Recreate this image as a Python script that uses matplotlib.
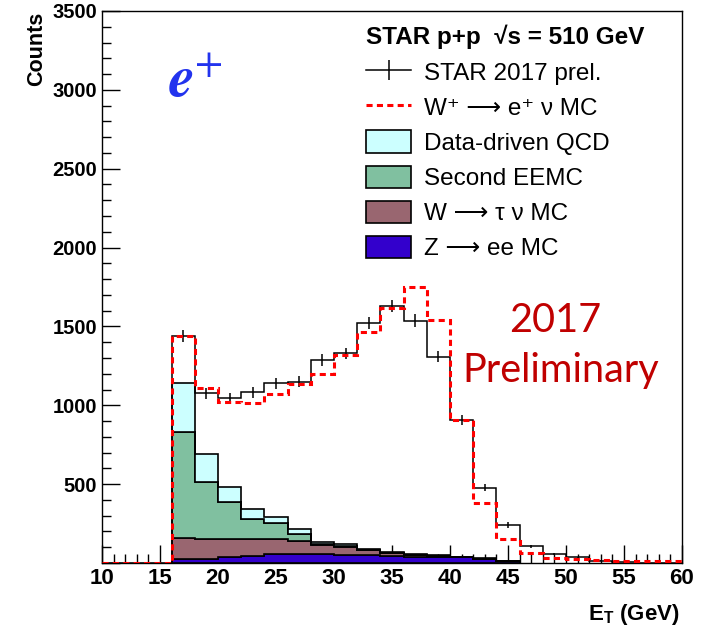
import numpy as np
import matplotlib
matplotlib.use("Agg")
import matplotlib.pyplot as plt
from matplotlib.lines import Line2D
from matplotlib.patches import Patch
from matplotlib.ticker import MultipleLocator

plt.rcParams['font.family'] = ['Liberation Sans', 'DejaVu Sans']
plt.rcParams['mathtext.fontset'] = 'custom'
plt.rcParams['mathtext.rm'] = 'Liberation Sans'
plt.rcParams['mathtext.bf'] = 'Liberation Sans:bold'
plt.rcParams['mathtext.it'] = 'Liberation Sans:italic'

# E_T binning (GeV), 2 GeV bins from 10 to 60
bin_edges = [10, 12, 14, 16, 18, 20, 22, 24, 26, 28, 30, 32, 34, 36, 38, 40,
             42, 44, 46, 48, 50, 52, 54, 56, 58, 60]

# STAR 2017 preliminary data (counts per bin) and statistical errors
data_counts = [0, 0, 0, 1438, 1076, 1044, 1082, 1139, 1150, 1287, 1330, 1520,
               1630, 1537, 1308, 907, 478, 241, 106, 57, 35, 15, 4, 3, 0]
data_errors = [0, 0, 0, 38, 33, 32, 33, 34, 34, 36, 36, 39,
               40, 39, 36, 30, 22, 16, 10, 8, 6, 4, 2, 2, 0]

# W+ -> e+ nu signal MC
mc_wplus = [0, 0, 0, 1442, 1108, 1023, 1013, 1070, 1135, 1196, 1319, 1467,
            1615, 1750, 1541, 907, 378, 155, 61, 34, 23, 17, 15, 15, 15]

# Background components, bins from 16 to 46 GeV
bkg_edges = [16, 18, 20, 22, 24, 26, 28, 30, 32, 34, 36, 38, 40, 42, 44, 46]
bkg_z_ee = [23, 25, 36, 46, 55, 55, 55, 50, 48, 44, 40, 40, 36, 25, 13]
bkg_w_tau = [134, 125, 119, 109, 98, 82, 59, 49, 32, 18, 10, 5, 2, 2, 1]
bkg_eemc = [676, 366, 230, 124, 99, 45, 5, 6, 5, 4, 3, 2, 1, 1, 0]
bkg_qcd = [306, 173, 99, 66, 37, 34, 11, 15, 5, 4, 2, 2, 1, 2, 1]

bkg_labels = ['Data-driven QCD', 'Second EEMC', 'W ⟶ τ ν MC', 'Z ⟶ ee MC']
bkg_colors = ['#CCFFFF', '#80C0A0', '#996670', '#3300CC']

x_ticks = [10, 15, 20, 25, 30, 35, 40, 45, 50, 55, 60]
x_tick_labels = ['10', '15', '20', '25', '30', '35', '40', '45', '50', '55', '60']
y_ticks = [0, 500, 1000, 1500, 2000, 2500, 3000, 3500]
y_tick_labels = ['', '500', '1000', '1500', '2000', '2500', '3000', '3500']

fig = plt.figure(figsize=(7.16, 6.3), dpi=100)
ax = fig.add_axes([102 / 716, 1 - 563 / 630, 580 / 716, 552 / 630])

# stacked backgrounds: Z at the bottom, QCD on top
stack_order = [(bkg_z_ee, bkg_colors[3]), (bkg_w_tau, bkg_colors[2]),
               (bkg_eemc, bkg_colors[1]), (bkg_qcd, bkg_colors[0])]
base = np.zeros(len(bkg_z_ee))
for vals, col in stack_order:
    top = base + np.array(vals)
    ax.stairs(top, bkg_edges, baseline=base, fill=True, facecolor=col,
              edgecolor='black', linewidth=1.2, zorder=2)
    base = top

# data histogram with error bars
centers = 0.5 * (np.array(bin_edges[:-1]) + np.array(bin_edges[1:]))
ax.stairs(data_counts, bin_edges, color='black', linewidth=1.1, zorder=3)
mask = np.array(data_counts) > 0
ax.errorbar(centers[mask], np.array(data_counts)[mask],
            yerr=np.array(data_errors)[mask], fmt='none', ecolor='black',
            elinewidth=1.1, zorder=3)

# signal MC
red_style = dict(color='#FF0000', linewidth=2.2, linestyle=(0, (2.0, 1.4)))
ax.stairs(mc_wplus, bin_edges, zorder=4, **red_style)

ax.set_xlim(10, 60)
ax.set_ylim(0, 3500)
ax.set_xticks(x_ticks, x_tick_labels)
ax.set_yticks(y_ticks, y_tick_labels)
ax.xaxis.set_minor_locator(MultipleLocator(1))
ax.yaxis.set_minor_locator(MultipleLocator(100))
ax.tick_params(which='both', direction='in', width=1.0, colors='black')
ax.tick_params(which='major', length=13)
ax.tick_params(which='minor', length=6.5)
ax.tick_params(axis='x', which='major', labelsize=16, pad=3.5)
ax.tick_params(axis='y', which='major', labelsize=14.5, pad=3.6)
for lbl in ax.get_xticklabels() + ax.get_yticklabels():
    lbl.set_fontweight('bold')
for sp in ax.spines.values():
    sp.set_linewidth(1.0)

ax.set_xlabel(r'E$_\mathbf{T}$ (GeV)', loc='right', fontsize=16, fontweight='bold')
ax.xaxis.set_label_coords(0.995, -0.07)
ax.set_ylabel('Counts', loc='top', fontsize=15.5, fontweight='bold')
ax.yaxis.set_label_coords(-0.095, 0.998)

# legend
handles = [
    Line2D([], [], color='black', linewidth=1.1, marker='|', markersize=14,
           markeredgewidth=1.1),
    Line2D([], [], **red_style),
] + [Patch(facecolor=c, edgecolor='black', linewidth=1.2) for c in bkg_colors]
labels = ['STAR 2017 prel.', 'W⁺ ⟶ e⁺ ν MC'] + bkg_labels
leg = ax.legend(handles, labels, loc='upper left', bbox_to_anchor=(0.4344, 0.9966),
                frameon=False, borderpad=0, fontsize=17.5, handlelength=1.85,
                handleheight=1.03, labelspacing=0.44, handletextpad=0.55,
                numpoints=1, alignment='left',
                title='STAR p+p  √s = 510 GeV',
                title_fontproperties={'weight': 'bold', 'size': 17.5})
leg.set_zorder(5)

# annotations
ax.text(0.114, 0.844, r'$\mathbfit{e}^{+}$', transform=ax.transAxes, ha='left',
        va='baseline', fontsize=42, color='#2233EE', math_fontfamily='stix')
ax.text(0.781, 0.4185, '2017', transform=ax.transAxes, ha='center',
        va='baseline', fontsize=28.5, color='#C00000', family='Lato')
ax.text(0.79, 0.328, 'Preliminary', transform=ax.transAxes, ha='center',
        va='baseline', fontsize=28.5, color='#C00000', family='Lato')

fig.savefig('out.png', dpi=100)
